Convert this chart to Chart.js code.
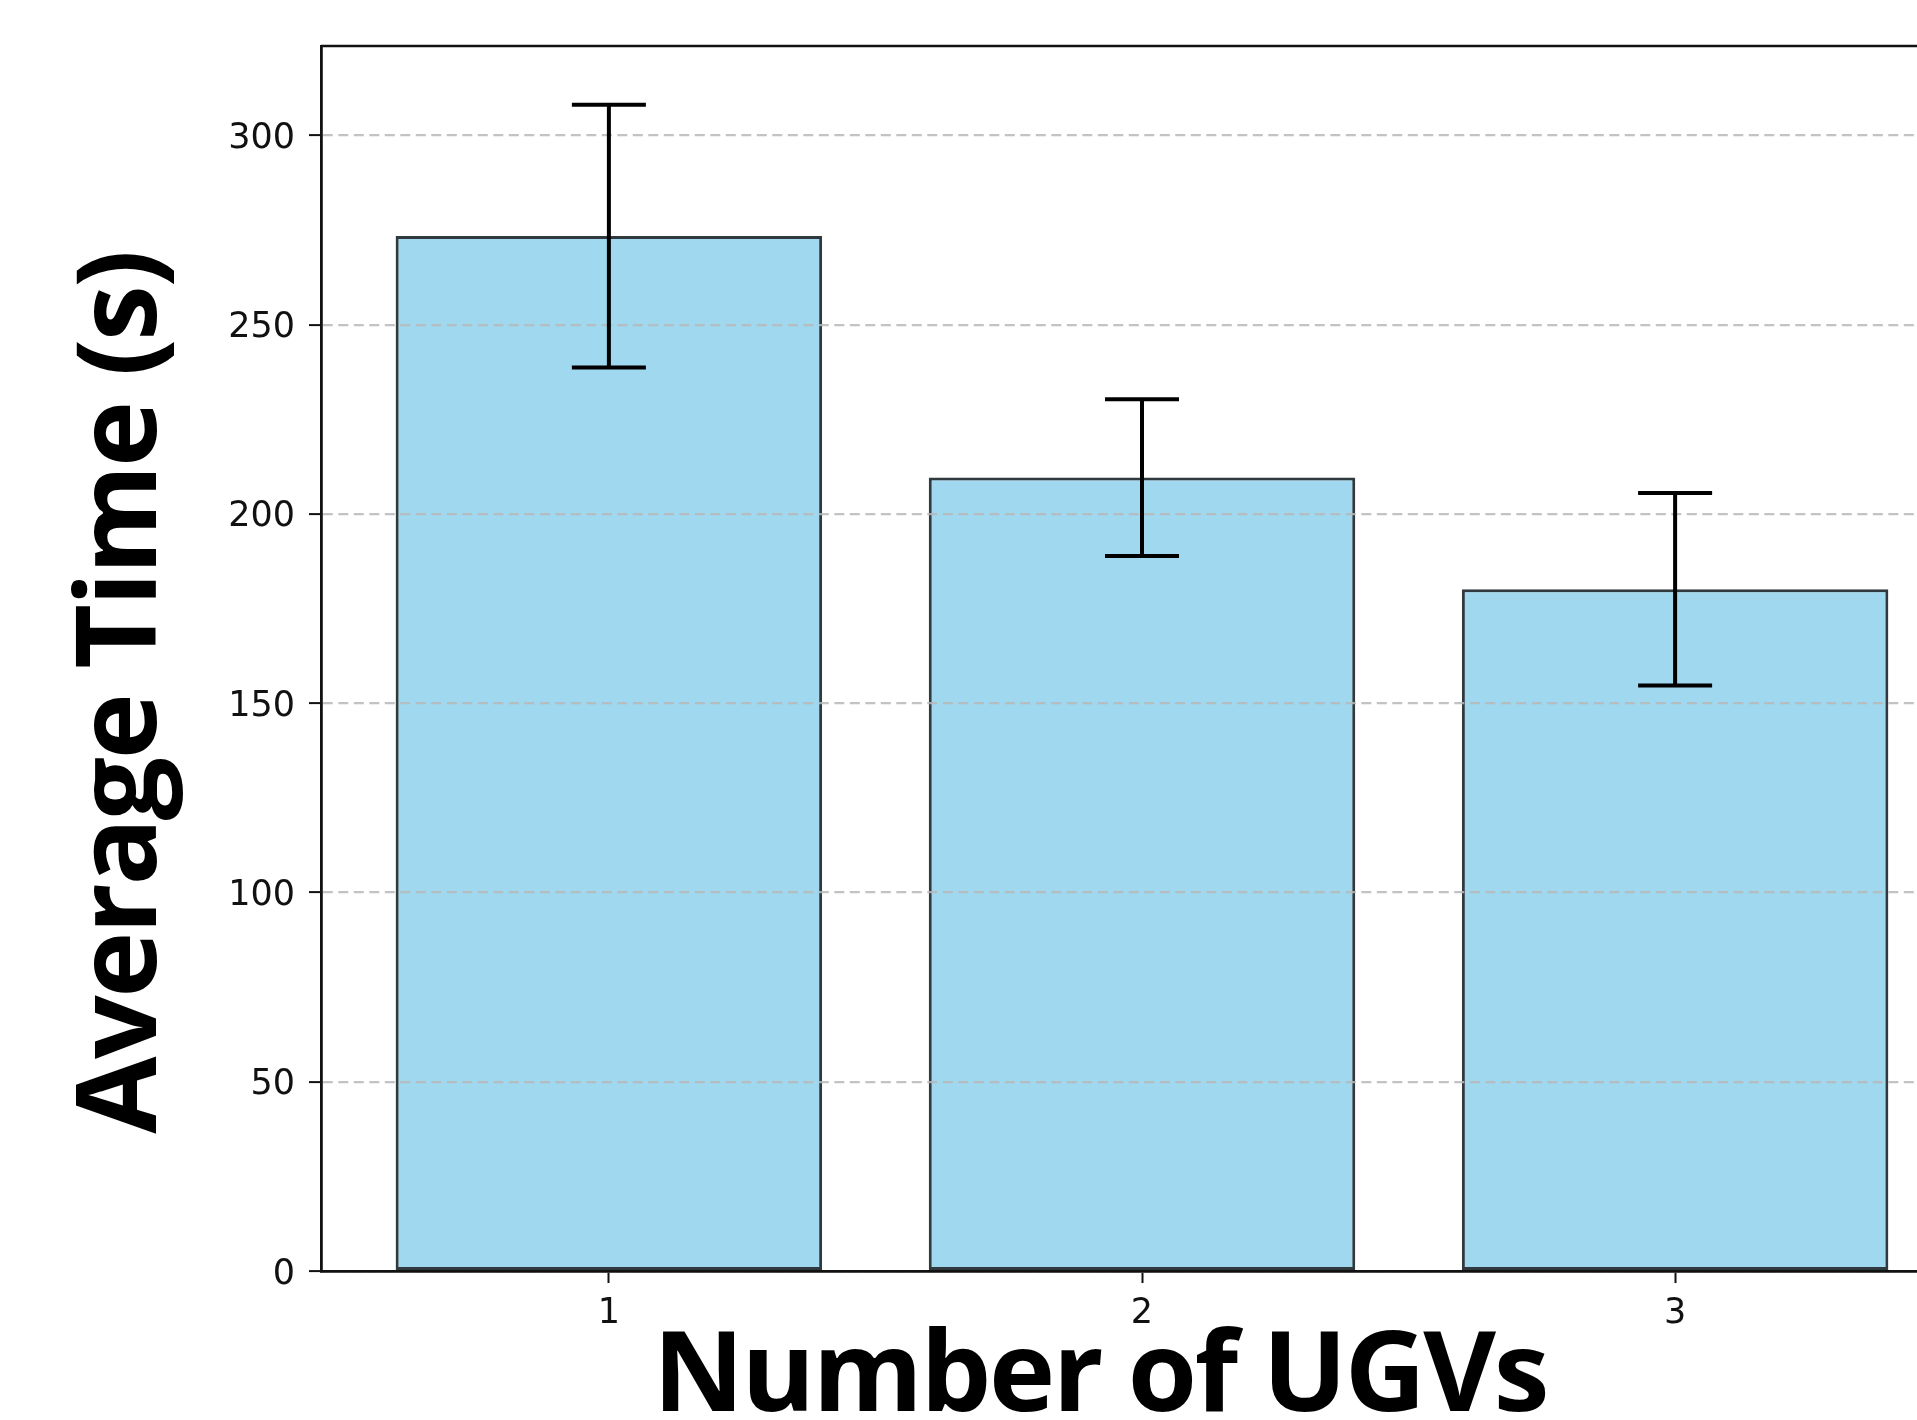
<!DOCTYPE html>
<html>
<head>
    <title>Average Time by Number of UGVs</title>
    <script src="https://cdn.jsdelivr.net/npm/chart.js"></script>
    <style>
        html, body { margin: 0; padding: 0; overflow: hidden; background: #fff; }
        #wrap { position: absolute; left: 0; top: 0; width: 1980px; height: 1420px; }
    </style>
</head>
<body>
    <div id="wrap">
        <canvas id="timeChart" width="1980" height="1420"></canvas>
    </div>

    <script>
        // values
        const ugvCounts = [1, 2, 3];
        const avgTimes = [273.4, 209.6, 180.1];
        const stdTimes = [34.7, 20.7, 25.4];
        const xTitle = 'Number of UGVs';
        const yTitle = 'Average Time (s)';

        const tickFont = { family: '"DejaVu Sans"', size: 35 };
        const titleFont = 'bold 112px "Open Sans"';

        // error bars, axes box and the big titles are drawn last
        const overlay = {
            id: 'overlay',
            afterDraw(chart) {
                const ctx = chart.ctx;
                const yScale = chart.scales.y;
                const meta = chart.getDatasetMeta(0);
                const area = chart.chartArea;

                ctx.save();
                ctx.strokeStyle = '#000';
                ctx.lineWidth = 4;
                meta.data.forEach((bar, i) => {
                    const top = yScale.getPixelForValue(avgTimes[i] + stdTimes[i]);
                    const bottom = yScale.getPixelForValue(avgTimes[i] - stdTimes[i]);
                    ctx.beginPath();
                    ctx.moveTo(bar.x, top);
                    ctx.lineTo(bar.x, bottom);
                    ctx.moveTo(bar.x - 37, top);
                    ctx.lineTo(bar.x + 37, top);
                    ctx.moveTo(bar.x - 37, bottom);
                    ctx.lineTo(bar.x + 37, bottom);
                    ctx.stroke();
                });

                // top and right spines
                ctx.lineWidth = 2.5;
                ctx.strokeStyle = '#111';
                ctx.beginPath();
                ctx.moveTo(area.left, area.top);
                ctx.lineTo(area.right, area.top);
                ctx.lineTo(area.right, area.bottom);
                ctx.stroke();

                ctx.fillStyle = '#000';
                ctx.font = titleFont;
                ctx.letterSpacing = '-2.4px';
                ctx.textAlign = 'center';
                ctx.textBaseline = 'alphabetic';
                ctx.fillText(xTitle, 1100, 1411);

                ctx.translate(156, 693);
                ctx.rotate(-Math.PI / 2);
                ctx.fillText(yTitle, 0, 0);
                ctx.restore();
            }
        };

        const ctx = document.getElementById('timeChart').getContext('2d');
        new Chart(ctx, {
            type: 'bar',
            data: {
                datasets: [{
                    data: ugvCounts.map((n, i) => ({ x: n, y: avgTimes[i] })),
                    backgroundColor: 'rgba(135, 206, 235, 0.8)',
                    borderColor: 'rgba(25, 35, 40, 0.9)',
                    borderWidth: 3,
                    borderSkipped: false,
                    barPercentage: 1.0,
                    categoryPercentage: 0.8
                }]
            },
            plugins: [overlay],
            options: {
                responsive: false,
                devicePixelRatio: 1,
                animation: false,
                layout: { padding: { left: 0, top: 46, right: 17, bottom: 0 } },
                plugins: {
                    legend: { display: false },
                    title: { display: false },
                    tooltip: { enabled: false }
                },
                scales: {
                    x: {
                        type: 'linear',
                        min: 0.46,
                        max: 3.54,
                        offset: false,
                        afterFit(scale) { scale.height = 149; },
                        ticks: {
                            stepSize: 1,
                            includeBounds: false,
                            padding: 10,
                            color: '#111',
                            font: tickFont
                        },
                        grid: {
                            offset: false,
                            drawOnChartArea: false,
                            drawTicks: true,
                            tickLength: 12,
                            tickWidth: 2,
                            tickColor: '#111'
                        },
                        border: { display: true, color: '#111', width: 2.8, z: 2 }
                    },
                    y: {
                        min: 0,
                        max: 323.6,
                        afterFit(scale) { scale.width = 321; },
                        ticks: {
                            stepSize: 50,
                            includeBounds: false,
                            padding: 14,
                            labelOffset: 3.5,
                            color: '#111',
                            font: tickFont
                        },
                        grid: {
                            color: 'rgba(185, 185, 185, 0.85)',
                            lineWidth: 2.2,
                            drawTicks: true,
                            tickLength: 12,
                            tickWidth: 2,
                            tickColor: '#111',
                            tickBorderDash: [],
                            z: 1
                        },
                        border: { display: true, color: '#111', width: 2.8, dash: [10, 5.5], z: 2 }
                    }
                }
            }
        });
    </script>
</body>
</html>
